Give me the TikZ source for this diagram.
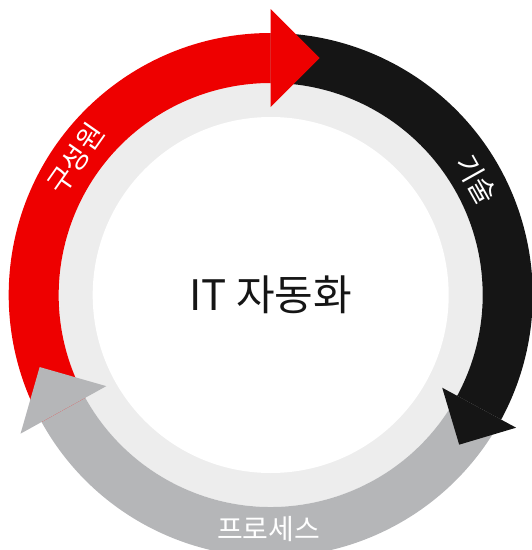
\documentclass[tikz,border=0pt]{standalone}
\usepackage{fontspec}
\setmainfont{Noto Sans CJK KR}
\usetikzlibrary{calc}

\definecolor{segred}{RGB}{238,0,0}
\definecolor{segblack}{RGB}{21,21,21}
\definecolor{seggray}{RGB}{181,182,184}
\definecolor{ringgray}{RGB}{237,237,237}

\tikzset{
	segtext/.style={text=white, inner sep=0pt, font=\fontsize{28}{32}\selectfont},
	titletext/.style={text=segblack, inner sep=0pt, font=\fontsize{42}{48}\selectfont}
}

\begin{document}
\begin{tikzpicture}[x=1pt, y=1pt]
	\useasboundingbox (-270.7,-255) rectangle (261.3,295);
	\clip (-270.7,-255) rectangle (261.3,295);

	\fill[ringgray] (0,0) circle[radius=212];
	\fill[white] (0,0) circle[radius=178];

	% ring segments
	\fill[seggray] (-28.4:212) arc[start angle=-28.4, end angle=-151, radius=212] -- (-151:262) arc[start angle=-151, end angle=-28.4, radius=262] -- cycle;
	\fill[segblack] (90:212) arc[start angle=90, end angle=-28.4, radius=212] -- (-28.4:262) arc[start angle=-28.4, end angle=90, radius=262] -- cycle;
	\fill[segred] (209:212) arc[start angle=209, end angle=90, radius=212] -- (90:262) arc[start angle=90, end angle=209, radius=262] -- cycle;

	% arrow heads
	\fill[segred] (90:188) -- (90:286) -- ($(90:237)+(0:49)$) -- cycle;
	\fill[segblack] (-28.4:195) -- (-28.4:279) -- ($(-28.4:237)+(-118.4:42)$) -- cycle;
	\fill[seggray] (209:188) -- (209:286) -- ($(209:237)+(119:49)$) -- cycle;

	\node[titletext] (auto) at (0,0) {IT 자동화};
	\node[segtext, rotate=55] (people) at (145:238) {구성원};
	\node[segtext, rotate=-60.8] (tech) at (29.2:236) {기술};
	\node[segtext] (process) at (-90.5:234) {프로세스};
\end{tikzpicture}
\end{document}
